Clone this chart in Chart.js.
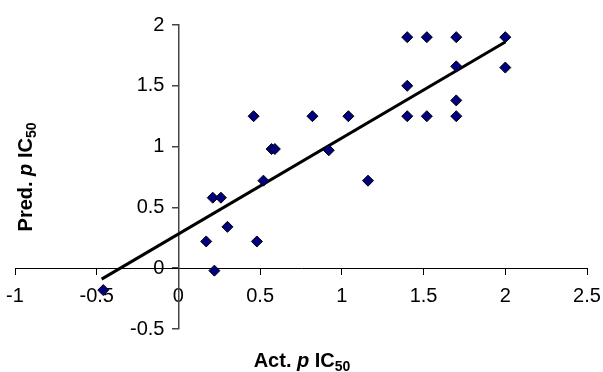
<!DOCTYPE html>
<html>
<head>
<meta charset="utf-8">
<script src="https://cdn.jsdelivr.net/npm/chart.js@4/dist/chart.umd.min.js"></script>
<style>
  html, body { margin: 0; padding: 0; background: #fff; }
  #wrap { width: 603px; height: 372px; position: relative; }
</style>
</head>
<body>
<div id="wrap"><canvas id="chart"></canvas></div>
<script>
// observed vs predicted values
var actual = [-0.46, 0.17, 0.22, 0.21, 0.26, 0.30, 0.48, 0.46, 0.52, 0.57, 0.59,
              0.82, 0.92, 1.04, 1.16, 1.40, 1.40, 1.40, 1.52, 1.52, 1.70, 1.70,
              1.70, 1.70, 2.00, 2.00];
var predicted = [-0.18, 0.22, -0.02, 0.58, 0.58, 0.34, 0.22, 1.25, 0.72, 0.98, 0.98,
                 1.25, 0.97, 1.25, 0.72, 1.90, 1.50, 1.25, 1.90, 1.25, 1.90, 1.66,
                 1.38, 1.25, 1.90, 1.65];

// trend line end points
var fitX = [-0.47, 2.0];
var fitY = [-0.09, 1.86];

var FONT = '"Liberation Sans", Arial, sans-serif';

var scatterPts = actual.map(function (x, i) { return { x: x, y: predicted[i] }; });
var fitPts = fitX.map(function (x, i) { return { x: x, y: fitY[i] }; });

// axes sit on the other axis' zero, so they shouldn't eat layout space
function noSpace(scale) {
    if (scale.isHorizontal()) scale.height = 0; else scale.width = 0;
    scale.paddingLeft = scale.paddingRight = scale.paddingTop = scale.paddingBottom = 0;
}

function fmt(v) { return String(Math.round(v * 10) / 10); }

function drawRich(ctx, parts, cx, baseY) {
    var total = 0;
    parts.forEach(function (p) { ctx.font = p.f; p.w = ctx.measureText(p.t).width; total += p.w; });
    var x = cx - total / 2;
    ctx.textAlign = 'left';
    ctx.textBaseline = 'alphabetic';
    parts.forEach(function (p) {
        ctx.font = p.f;
        ctx.fillText(p.t, x, baseY + (p.dy || 0));
        x += p.w;
    });
}

var axisTitles = {
    id: 'axisTitles',
    afterDraw: function (chart) {
        var ctx = chart.ctx;
        var xs = chart.scales.x, ys = chart.scales.y;
        ctx.save();
        ctx.fillStyle = '#000';

        // y tick labels, left of the y axis (chart.js puts them flush on the line)
        ctx.font = '20px ' + FONT;
        ctx.textAlign = 'right';
        ctx.textBaseline = 'middle';
        var axisX = xs.getPixelForValue(0);
        ys.ticks.forEach(function (t) {
            ctx.fillText(fmt(t.value), axisX - 14, ys.getPixelForValue(t.value));
        });

        drawRich(ctx, [
            { t: 'Act. ', f: 'bold 20px ' + FONT },
            { t: 'p', f: 'italic bold 20px ' + FONT },
            { t: ' IC', f: 'bold 20px ' + FONT },
            { t: '50', f: 'bold 14px ' + FONT, dy: 4 }
        ], 302, 367);
        ctx.translate(32, 177);
        ctx.rotate(-Math.PI / 2);
        drawRich(ctx, [
            { t: 'Pred. ', f: 'bold 20px ' + FONT },
            { t: 'p', f: 'italic bold 20px ' + FONT },
            { t: ' IC', f: 'bold 20px ' + FONT },
            { t: '50', f: 'bold 14px ' + FONT, dy: 4 }
        ], 0, 0);
        ctx.restore();
    }
};

new Chart(document.getElementById('chart').getContext('2d'), {
    type: 'scatter',
    data: {
        datasets: [{
            label: 'Compounds',
            data: scatterPts,
            pointStyle: 'rectRot',
            pointRadius: 5.5,
            pointHoverRadius: 5.5,
            backgroundColor: '#000080',
            borderColor: '#000',
            borderWidth: 1
        }, {
            type: 'line',
            label: 'Fit',
            data: fitPts,
            borderColor: '#000',
            borderWidth: 3,
            pointRadius: 0,
            fill: false
        }]
    },
    options: {
        responsive: true,
        maintainAspectRatio: false,
        animation: false,
        layout: { padding: { left: 15, right: 16, top: 25, bottom: 43 } },
        plugins: {
            legend: { display: false },
            tooltip: { enabled: false }
        },
        scales: {
            x: {
                type: 'linear',
                min: -1, max: 2.5,
                position: { y: 0 },
                afterFit: noSpace,
                border: { color: '#000', width: 1 },
                grid: { drawOnChartArea: false, drawTicks: true, tickLength: 6, color: '#000' },
                ticks: { stepSize: 0.5, color: '#000', padding: 10, callback: fmt, font: { family: FONT, size: 20 } }
            },
            y: {
                type: 'linear',
                min: -0.5, max: 2,
                position: { x: 0 },
                afterFit: noSpace,
                border: { color: '#444', width: 1.5 },
                grid: { drawOnChartArea: false, drawTicks: true, tickLength: 6, color: '#444', lineWidth: 1.5 },
                ticks: { stepSize: 0.5, display: false }
            }
        }
    },
    plugins: [axisTitles]
});
</script>
</body>
</html>
